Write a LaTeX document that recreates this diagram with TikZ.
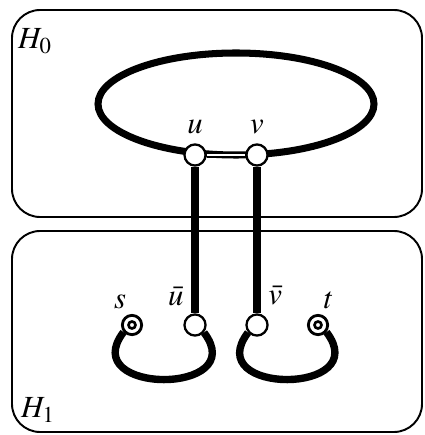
\documentclass[tikz,border=0pt]{standalone}
\usepackage{mathptmx}
\tikzset{
    panel/.style={line width=1.1pt,rounded corners=16pt},
    cycleline/.style={line width=4pt},
    pathline/.style={line width=4.2pt},
    tieline/.style={double,line width=1pt,double distance=1.2pt},
    vtx/.style={circle,draw,fill=white,line width=1.3pt,minimum size=12pt,inner sep=0pt},
    term/.style={vtx,line width=1.6pt,minimum size=11pt,
        path picture={\draw[line width=1.5pt] (path picture bounding box.center) circle (2pt);}},
    tag/.style={inner sep=0pt,font=\fontsize{17.5}{19}\selectfont},
    every label/.style={tag}
}

\begin{document}
\begin{tikzpicture}[x=0.02cm,y=-0.02cm]
    \useasboundingbox (0,0) rectangle (424,435);
    % Panels
    \draw[panel] (12,10) rectangle (422,217);
    \draw[panel] (12,231) rectangle (422,432);
    \node[tag] (H0) at (35,41) {$H_0$};
    \node[tag] (H1) at (38,410) {$H_1$};
    % Cycle in H0
    \draw[cycleline] (236,104) ellipse [x radius=138,y radius=51];
    % Vertices
    \node[vtx,label={[name=ulab,label distance=5pt]90:$u$}] (u) at (195,155) {};
    \node[vtx,label={[name=vlab,label distance=5pt]90:$v$}] (v) at (257,155) {};
    \node[vtx,label={[name=ubarlab,label distance=6pt]120:$\bar u$}] (ubar) at (195,325) {};
    \node[vtx,label={[name=vbarlab,label distance=6pt]60:$\bar v$}] (vbar) at (257,325) {};
    \node[term,label={[name=slab,label distance=3pt]110:$s$}] (s) at (132,325) {};
    \node[term,label={[name=tlab,label distance=3pt]70:$t$}] (t) at (318,325) {};
    % Edges
    \draw[tieline] (u) -- (v);
    \draw[pathline] (u) -- (ubar);
    \draw[pathline] (v) -- (vbar);
    \draw[pathline] (s.-140) .. controls +(-48,63) and +(48,63) .. (ubar.-40);
    \draw[pathline] (vbar.-140) .. controls +(-48,63) and +(48,63) .. (t.-40);
\end{tikzpicture}
\end{document}
